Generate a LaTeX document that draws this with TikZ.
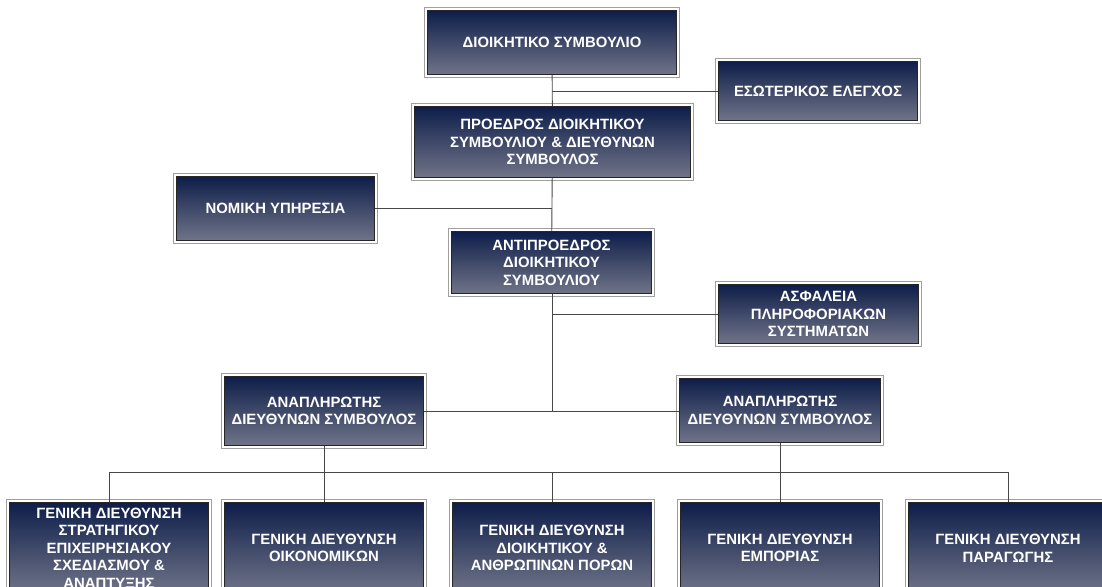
\documentclass[tikz,border=0pt]{standalone}
\usepackage{fontspec}
\setmainfont{Liberation Sans}
\begin{document}
\begin{tikzpicture}[x=1pt,y=-1pt,
  orgbox/.style={top color=topnavy, bottom color=botgray, draw=black!85, line width=1.1pt,
    align=center, text=white, font=\fontsize{14.9}{17.6}\selectfont\bfseries, inner sep=0pt},
  oframe/.style={draw=gray!75, line width=0.8pt},
  conn/.style={draw=black!72, line width=0.9pt}]
\definecolor{topnavy}{RGB}{14,30,74}
\definecolor{botgray}{RGB}{112,116,136}
\newcommand\obox[6]{%
  \node[orgbox, minimum width=(#4-#2-5)*1pt, minimum height=(#5-#3-5)*1pt]
    (#1) at ({(#2+#4)/2},{(#3+#5)/2}) {#6};
  \draw[oframe] ([xshift=-2.5pt,yshift=2.5pt]#1.north west) rectangle ([xshift=2.5pt,yshift=-2.5pt]#1.south east);}
\useasboundingbox (0,0) rectangle (1102,586);
\clip (0,0) rectangle (1102,586);
% coordinates for connector junctions
\coordinate (j1) at (552,91);
\coordinate (j2) at (552,208);
\coordinate (j3) at (552,314);
\coordinate (j4) at (552,411);
\coordinate (hl) at (109,472);
\coordinate (hr) at (1008,472);
\coordinate (h7) at (324,472);
\coordinate (h8) at (780,472);
\coordinate (h11) at (552,472);
% boxes
\obox{ds}{425}{8}{679}{77}{ΔΙΟΙΚΗΤΙΚΟ ΣΥΜΒΟΥΛΙΟ}
\obox{ee}{716}{59}{920}{123}{ΕΣΩΤΕΡΙΚΟΣ ΕΛΕΓΧΟΣ}
\obox{pr}{412}{104}{693}{180}{ΠΡΟΕΔΡΟΣ ΔΙΟΙΚΗΤΙΚΟΥ\\ΣΥΜΒΟΥΛΙΟΥ \& ΔΙΕΥΘΥΝΩΝ\\ΣΥΜΒΟΥΛΟΣ}
\obox{ny}{174}{174}{377}{243}{ΝΟΜΙΚΗ ΥΠΗΡΕΣΙΑ}
\obox{ap}{449}{229}{654}{296}{ΑΝΤΙΠΡΟΕΔΡΟΣ\\ΔΙΟΙΚΗΤΙΚΟΥ\\ΣΥΜΒΟΥΛΙΟΥ}
\obox{as}{716}{282}{921}{346}{ΑΣΦΑΛΕΙΑ\\ΠΛΗΡΟΦΟΡΙΑΚΩΝ\\ΣΥΣΤΗΜΑΤΩΝ}
\obox{ad1}{222}{374}{426}{448}{ΑΝΑΠΛΗΡΩΤΗΣ\\ΔΙΕΥΘΥΝΩΝ ΣΥΜΒΟΥΛΟΣ}
\obox{ad2}{677}{376}{883}{445}{ΑΝΑΠΛΗΡΩΤΗΣ\\ΔΙΕΥΘΥΝΩΝ ΣΥΜΒΟΥΛΟΣ}
\obox{g1}{7}{500}{211}{596}{ΓΕΝΙΚΗ ΔΙΕΥΘΥΝΣΗ\\ΣΤΡΑΤΗΓΙΚΟΥ\\ΕΠΙΧΕΙΡΗΣΙΑΚΟΥ\\ΣΧΕΔΙΑΣΜΟΥ \&\\ΑΝΑΠΤΥΞΗΣ}
\obox{g2}{222}{500}{426}{596}{ΓΕΝΙΚΗ ΔΙΕΥΘΥΝΣΗ\\ΟΙΚΟΝΟΜΙΚΩΝ}
\obox{g3}{450}{500}{654}{596}{ΓΕΝΙΚΗ ΔΙΕΥΘΥΝΣΗ\\ΔΙΟΙΚΗΤΙΚΟΥ \&\\ΑΝΘΡΩΠΙΝΩΝ ΠΟΡΩΝ}
\obox{g4}{678}{500}{882}{596}{ΓΕΝΙΚΗ ΔΙΕΥΘΥΝΣΗ\\ΕΜΠΟΡΙΑΣ}
\obox{g5}{906}{500}{1110}{596}{ΓΕΝΙΚΗ ΔΙΕΥΘΥΝΣΗ\\ΠΑΡΑΓΩΓΗΣ}
% connectors
\draw[conn] (ds) -- (pr);
\draw[conn] (j1) -- (ee.west |- j1);
\draw[conn] (pr) -- (ap);
\draw[conn] (ny.east |- j2) -- (j2);
\draw[conn] (ap.south -| j4) -- (j4);
\draw[conn] (j3) -- (as.west |- j3);
\draw[conn] (ad1.east |- j4) -- (ad2.west |- j4);
\draw[conn] (ad1.south -| h7) -- (h7);
\draw[conn] (ad2.south -| h8) -- (h8);
\draw[conn] (hl) -- (hr);
\draw[conn] (hl) -- (g1.north -| hl);
\draw[conn] (h7) -- (g2.north -| h7);
\draw[conn] (h11) -- (g3.north -| h11);
\draw[conn] (h8) -- (g4.north -| h8);
\draw[conn] (hr) -- (g5.north -| hr);
\end{tikzpicture}
\end{document}
